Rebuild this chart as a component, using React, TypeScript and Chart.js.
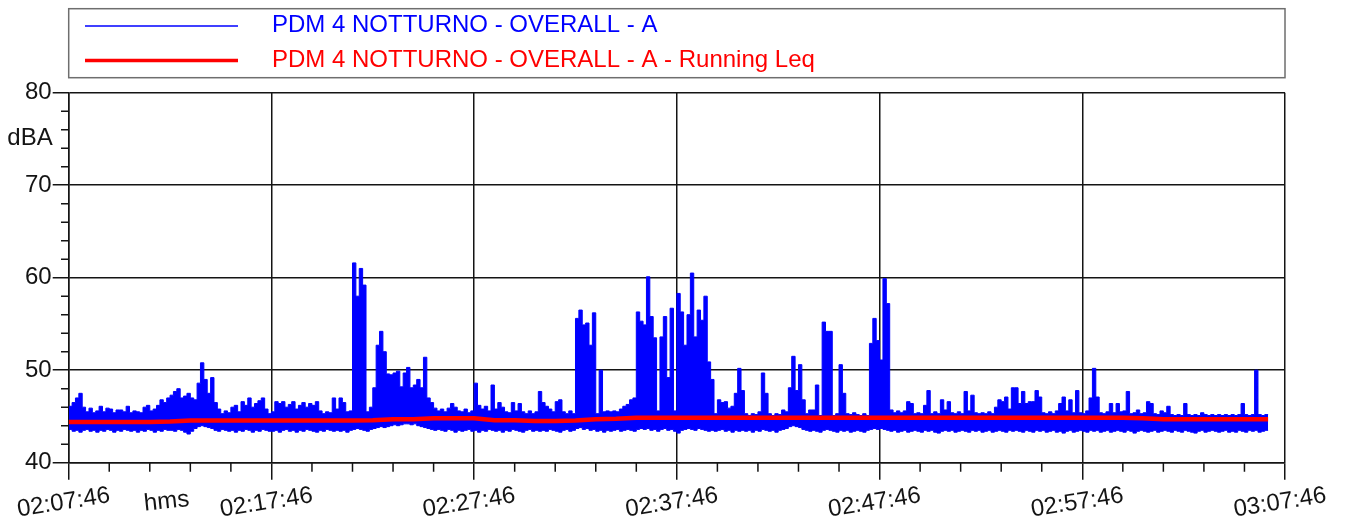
import React, { useEffect, useRef } from "react";
import { Chart, registerables } from "chart.js";

Chart.register(...registerables);

// ---- data ----
const seriesNames = [
  "PDM 4 NOTTURNO - OVERALL - A",
  "PDM 4 NOTTURNO - OVERALL - A - Running Leq",
];
const xTickLabels = ["02:07:46", "02:17:46", "02:27:46", "02:37:46", "02:47:46", "02:57:46", "03:07:46"];
const yTickValues = [40, 50, 60, 70, 80];
const xUnit = "hms";
const yUnit = "dBA";

// envelope of the A-weighted level, one value per 10 s block (upper envelope)
const levelMax = [
  46.1, 46.5, 47.0, 47.5, 46.0, 45.5, 45.9, 45.4, 45.6, 46.1,
  45.5, 45.9, 45.8, 45.4, 45.7, 45.7, 45.5, 46.1, 45.4, 45.6,
  45.5, 45.4, 46.0, 46.2, 45.6, 45.8, 46.2, 46.8, 46.5, 47.0,
  47.3, 47.7, 48.0, 47.0, 47.2, 47.5, 47.0, 46.8, 48.6, 50.8,
  49.0, 47.5, 49.2, 46.5, 45.8, 45.3, 45.6, 45.4, 46.0, 46.2,
  45.5, 46.6, 46.2, 47.0, 46.0, 46.4, 46.7, 47.0, 45.8, 45.3,
  45.5, 46.6, 46.4, 46.6, 46.0, 46.3, 46.6, 45.8, 46.2, 46.5,
  46.0, 46.4, 46.2, 46.6, 45.6, 45.3, 45.5, 45.4, 47.0, 45.8,
  47.0, 46.5, 45.5, 45.6, 61.6, 58.0, 61.0, 59.2, 45.5, 46.0,
  48.1, 52.7, 54.2, 52.0, 49.6, 49.5, 49.7, 49.9, 48.2, 49.7,
  50.3, 48.1, 48.4, 49.0, 48.1, 51.4, 47.0, 46.5, 45.9, 45.6,
  45.8, 45.5, 45.9, 46.4, 46.0, 45.6, 45.5, 45.8, 45.4, 45.6,
  48.6, 46.2, 45.8, 46.1, 45.6, 48.4, 45.8, 46.5, 46.0, 45.5,
  45.4, 46.5, 45.6, 46.4, 45.5, 45.3, 45.6, 45.3, 45.5, 47.7,
  46.5, 46.1, 45.8, 45.5, 46.6, 46.8, 45.5, 45.3, 45.6, 45.3,
  55.6, 56.5, 54.9, 55.1, 52.7, 56.2, 45.3, 50.0, 45.5, 45.6,
  45.5, 45.6, 45.5, 45.8, 46.1, 46.3, 46.8, 47.0, 56.3, 55.3,
  54.9, 60.1, 55.8, 53.5, 45.6, 53.6, 55.8, 49.2, 56.7, 45.6,
  58.3, 56.3, 52.7, 56.0, 60.5, 53.6, 56.5, 55.4, 58.0, 50.9,
  49.0, 45.3, 46.8, 46.5, 46.6, 45.9, 46.1, 47.5, 50.2, 47.8,
  45.3, 45.1, 45.3, 45.2, 45.5, 49.7, 47.5, 45.3, 45.1, 45.3,
  45.2, 45.7, 45.5, 48.1, 51.5, 47.8, 50.6, 46.8, 45.3, 45.7,
  45.7, 48.4, 45.1, 55.2, 54.2, 54.2, 45.1, 45.3, 50.6, 47.5,
  45.3, 45.2, 45.4, 45.2, 45.1, 45.3, 45.1, 52.9, 55.6, 53.2,
  51.1, 59.9, 57.2, 45.7, 45.4, 45.6, 45.4, 45.6, 46.6, 46.4,
  45.3, 45.4, 45.3, 46.2, 47.8, 45.3, 45.5, 45.3, 46.8, 45.7,
  46.6, 45.4, 45.3, 45.5, 45.3, 47.7, 45.6, 47.3, 45.4, 45.3,
  45.4, 45.3, 45.5, 45.3, 46.0, 46.8, 46.6, 47.1, 45.8, 48.1,
  48.1, 46.4, 47.7, 46.4, 46.6, 46.6, 47.8, 47.1, 45.4, 45.3,
  45.5, 45.3, 45.6, 46.4, 47.1, 45.6, 46.8, 45.4, 47.8, 45.4,
  45.3, 45.6, 47.0, 50.2, 47.1, 45.4, 45.3, 45.5, 46.4, 45.4,
  46.4, 45.5, 45.6, 47.7, 45.3, 45.4, 45.7, 45.3, 45.4, 46.6,
  46.4, 45.3, 45.2, 45.6, 45.4, 46.1, 45.2, 45.1, 45.2, 45.1,
  46.4, 45.2, 45.1, 45.2, 45.1, 45.4, 45.2, 45.1, 45.2, 45.1,
  45.2, 45.1, 45.2, 45.1, 45.2, 45.1, 45.2, 46.4, 45.2, 45.1,
  45.2, 50.0, 45.2, 45.1, 45.2,
];

// lower envelope, same 10 s blocks
const levelMin = [
  43.6, 43.4, 43.5, 43.3, 43.5, 43.6, 43.4, 43.5, 43.3, 43.5,
  43.4, 43.6, 43.5, 43.3, 43.5, 43.4, 43.6, 43.5, 43.4, 43.5,
  43.3, 43.5, 43.4, 43.6, 43.5, 43.3, 43.5, 43.4, 43.6, 43.5,
  43.5, 43.4, 43.6, 43.5, 43.3, 43.1, 43.4, 43.7, 43.9, 44.0,
  43.9, 43.8, 43.7, 43.5, 43.4, 43.6, 43.5, 43.4, 43.5, 43.3,
  43.5, 43.4, 43.6, 43.5, 43.3, 43.5, 43.4, 43.6, 43.5, 43.4,
  43.4, 43.5, 43.3, 43.5, 43.6, 43.4, 43.5, 43.3, 43.5, 43.4,
  43.6, 43.5, 43.4, 43.3, 43.5, 43.4, 43.6, 43.5, 43.4, 43.5,
  43.4, 43.5, 43.3, 43.5, 43.6, 43.7, 43.6, 43.5, 43.4, 43.6,
  43.7, 43.8, 43.9, 43.8, 43.9, 44.0, 44.1, 44.0, 44.1, 44.2,
  44.2, 44.1, 44.2, 44.0, 43.9, 43.8, 43.7, 43.6, 43.5, 43.6,
  43.5, 43.4, 43.6, 43.5, 43.3, 43.5, 43.4, 43.5, 43.6, 43.4,
  43.5, 43.3, 43.5, 43.4, 43.6, 43.5, 43.4, 43.5, 43.3, 43.5,
  43.4, 43.6, 43.5, 43.4, 43.3, 43.5, 43.6, 43.4, 43.5, 43.4,
  43.5, 43.4, 43.6, 43.5, 43.4, 43.3, 43.5, 43.6, 43.4, 43.5,
  43.7, 43.8, 43.6, 43.7, 43.5, 43.6, 43.4, 43.5, 43.3, 43.5,
  43.4, 43.5, 43.6, 43.4, 43.5, 43.6, 43.5, 43.4, 43.6, 43.7,
  43.6, 43.7, 43.5, 43.6, 43.4, 43.6, 43.7, 43.5, 43.6, 43.4,
  43.2, 43.5, 43.6, 43.7, 43.6, 43.5, 43.7, 43.6, 43.5, 43.4,
  43.5, 43.4, 43.5, 43.6, 43.4, 43.5, 43.3, 43.5, 43.4, 43.5,
  43.4, 43.5, 43.3, 43.5, 43.4, 43.6, 43.5, 43.4, 43.5, 43.3,
  43.5, 43.6, 43.7, 43.9, 44.0, 43.9, 43.8, 43.6, 43.5, 43.4,
  43.5, 43.4, 43.3, 43.5, 43.6, 43.5, 43.4, 43.3, 43.5, 43.4,
  43.5, 43.3, 43.4, 43.5, 43.4, 43.3, 43.5, 43.6, 43.7, 43.6,
  43.7, 43.6, 43.5, 43.4, 43.5, 43.3, 43.4, 43.5, 43.3, 43.4,
  43.5, 43.4, 43.3, 43.5, 43.4, 43.5, 43.3, 43.2, 43.4, 43.5,
  43.4, 43.5, 43.3, 43.4, 43.5, 43.4, 43.3, 43.5, 43.4, 43.5,
  43.3, 43.4, 43.5, 43.3, 43.4, 43.5, 43.4, 43.3, 43.5, 43.4,
  43.5, 43.4, 43.3, 43.5, 43.4, 43.3, 43.5, 43.4, 43.5, 43.3,
  43.4, 43.5, 43.3, 43.4, 43.2, 43.4, 43.5, 43.3, 43.4, 43.5,
  43.4, 43.3, 43.5, 43.4, 43.5, 43.3, 43.4, 43.5, 43.3, 43.4,
  43.5, 43.4, 43.3, 43.5, 43.4, 43.2, 43.4, 43.5, 43.4, 43.3,
  43.4, 43.5, 43.3, 43.4, 43.5, 43.4, 43.3, 43.5, 43.4, 43.3,
  43.5, 43.4, 43.3, 43.2, 43.4, 43.5, 43.3, 43.4, 43.5, 43.4,
  43.3, 43.4, 43.5, 43.3, 43.4, 43.3, 43.5, 43.4, 43.3, 43.5,
  43.4, 43.5, 43.3, 43.4, 43.5,
];

// running Leq, one value per minute
const runningLeq = [
  44.4, 44.4, 44.4, 44.4, 44.4, 44.45, 44.55, 44.55, 44.55, 44.55,
  44.55, 44.55, 44.55, 44.55, 44.55, 44.6, 44.7, 44.7, 44.8, 44.8,
  44.8, 44.6, 44.6, 44.5, 44.5, 44.55, 44.7, 44.75, 44.85, 44.85,
  44.85, 44.85, 44.85, 44.85, 44.85, 44.85, 44.85, 44.85, 44.85, 44.85,
  44.85, 44.85, 44.85, 44.85, 44.85, 44.85, 44.85, 44.85, 44.85, 44.85,
  44.85, 44.85, 44.85, 44.8, 44.7, 44.7, 44.7, 44.7, 44.7, 44.7,
];

const BLOCK_S = 10;
const LEQ_STEP_S = 60;
const SPAN_S = 3600;
const MAJOR_X_S = 600;
const MINOR_X_S = 120;
const MINOR_Y = 2;

const FONT = "'Liberation Sans', Arial, sans-serif";
const INK = "#141414";
const BLUE = "#0000ff";
const RED = "#ff0000";

function buildEnvelope(values: number[]) {
  const pts = values.map((v, i) => ({ x: i * BLOCK_S, y: v }));
  pts.push({ x: values.length * BLOCK_S, y: values[values.length - 1] });
  return pts;
}

function buildLeq() {
  const end = levelMax.length * BLOCK_S;
  const pts = runningLeq.map((v, m) => ({ x: Math.min(m * LEQ_STEP_S, end), y: v }));
  pts.push({ x: end, y: runningLeq[runningLeq.length - 1] });
  return pts;
}

const decorPlugin = {
  id: "decor",
  afterDraw(chart: any) {
    const ctx = chart.ctx as CanvasRenderingContext2D;
    const xs = chart.scales.x;
    const ys = chart.scales.y;
    const area = chart.chartArea;
    ctx.save();

    // minor ticks
    ctx.strokeStyle = INK;
    ctx.lineWidth = 1.5;
    ctx.beginPath();
    for (let t = MINOR_X_S; t < SPAN_S; t += MINOR_X_S) {
      if (t % MAJOR_X_S === 0) continue;
      const px = xs.getPixelForValue(t);
      ctx.moveTo(px, area.bottom);
      ctx.lineTo(px, area.bottom + 9);
    }
    for (let v = ys.min + MINOR_Y; v < ys.max; v += MINOR_Y) {
      if (v % 10 === 0) continue;
      const py = ys.getPixelForValue(v);
      ctx.moveTo(area.left - 7.7, py);
      ctx.lineTo(area.left, py);
    }
    ctx.stroke();

    // x tick labels (rotated)
    ctx.fillStyle = INK;
    ctx.font = `24px ${FONT}`;
    ctx.textAlign = "center";
    ctx.textBaseline = "middle";
    xTickLabels.forEach((lab, k) => {
      const px = xs.getPixelForValue(k * MAJOR_X_S);
      ctx.save();
      ctx.translate(px - 5, area.bottom + 40);
      ctx.rotate((-9 * Math.PI) / 180);
      ctx.fillText(lab, 0, 0);
      ctx.restore();
    });

    // x unit
    ctx.save();
    ctx.translate(xs.getPixelForValue(290), area.bottom + 39);
    ctx.rotate((-6 * Math.PI) / 180);
    ctx.fillText(xUnit, 0, 0);
    ctx.restore();

    // y unit
    ctx.textAlign = "right";
    ctx.fillText(yUnit, area.left - 16, ys.getPixelForValue(75.1));

    // legend
    const lx = area.left;
    const ly = 8.7;
    const lw = area.right - area.left;
    const lh = 69;
    ctx.strokeStyle = "#6e6e6e";
    ctx.lineWidth = 1.5;
    ctx.strokeRect(lx, ly, lw, lh);

    const ds = chart.data.datasets.filter((d: any) => d.inLegend);
    const rows = [26, 60.5];
    ctx.textAlign = "left";
    ctx.textBaseline = "alphabetic";
    ds.forEach((d: any, k: number) => {
      ctx.strokeStyle = d.borderColor;
      ctx.lineWidth = k === 0 ? 1.6 : 3.5;
      ctx.beginPath();
      ctx.moveTo(85, rows[k]);
      ctx.lineTo(238, rows[k]);
      ctx.stroke();
      ctx.fillStyle = d.borderColor;
      ctx.fillText(d.label, 272, rows[k] + 6);
    });

    ctx.restore();
  },
};

export default function App() {
  const ref = useRef<HTMLCanvasElement | null>(null);

  useEffect(() => {
    if (!ref.current) return;
    const chart = new Chart(ref.current, {
      type: "line",
      data: {
        datasets: [
          {
            label: seriesNames[0],
            inLegend: true,
            data: buildEnvelope(levelMax),
            borderColor: BLUE,
            backgroundColor: BLUE,
            borderWidth: 1,
            pointRadius: 0,
            stepped: true,
            fill: false,
            order: 3,
          } as any,
          {
            label: seriesNames[0] + " (min)",
            inLegend: false,
            data: buildEnvelope(levelMin),
            borderColor: BLUE,
            backgroundColor: BLUE,
            borderWidth: 1,
            pointRadius: 0,
            stepped: true,
            fill: "-1",
            order: 2,
          } as any,
          {
            label: seriesNames[1],
            inLegend: true,
            data: buildLeq(),
            borderColor: RED,
            borderWidth: 4.5,
            pointRadius: 0,
            tension: 0,
            fill: false,
            order: 1,
          } as any,
        ],
      },
      options: {
        responsive: false,
        animation: false,
        layout: { padding: { top: 92.7, right: 61, left: 0, bottom: 0 } },
        plugins: {
          legend: { display: false },
          tooltip: { enabled: false },
          title: { display: false },
        },
        scales: {
          x: {
            type: "linear",
            min: 0,
            max: SPAN_S,
            ticks: {
              stepSize: MAJOR_X_S,
              display: false,
              callback: (v: any) => xTickLabels[Math.round(Number(v) / MAJOR_X_S)] ?? "",
            },
            grid: {
              color: INK,
              lineWidth: 1.5,
              drawTicks: true,
              tickLength: 17,
              tickColor: INK,
              tickWidth: 1.5,
            },
            border: { display: true, color: INK, width: 1.5 },
            afterFit: (scale: any) => {
              scale.height = 62.3;
            },
          },
          y: {
            type: "linear",
            min: yTickValues[0],
            max: yTickValues[yTickValues.length - 1],
            ticks: {
              stepSize: 10,
              color: INK,
              font: { family: FONT, size: 24 },
              padding: 1,
            },
            grid: {
              color: INK,
              lineWidth: 1.5,
              drawTicks: true,
              tickLength: 16,
              tickColor: INK,
              tickWidth: 1.5,
            },
            border: { display: true, color: INK, width: 1.5 },
            afterFit: (scale: any) => {
              scale.width = 68.7;
            },
          },
        },
      },
      plugins: [decorPlugin],
    });
    return () => chart.destroy();
  }, []);

  return (
    <div style={{ position: "fixed", left: 0, top: 0, width: 1346, height: 525, background: "#fff" }}>
      <canvas ref={ref} width={1346} height={525} style={{ display: "block" }} />
    </div>
  );
}
